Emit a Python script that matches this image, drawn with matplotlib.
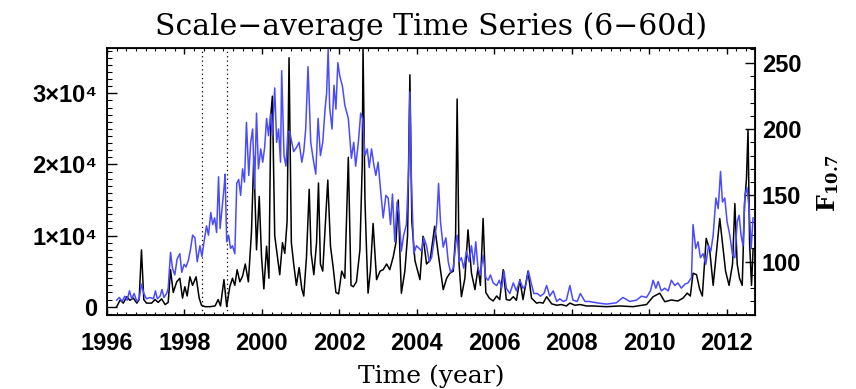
import numpy as np
import matplotlib.pyplot as plt
from matplotlib.ticker import MultipleLocator, FixedLocator

# scale-averaged wavelet power, 6-60 day band
t_power = [1996.25, 1996.34, 1996.42, 1996.51, 1996.59, 1996.68, 1996.77, 1996.83, 1996.89, 1996.95,
           1997.02, 1997.15, 1997.24, 1997.32, 1997.41, 1997.50, 1997.58, 1997.64, 1997.71, 1997.80,
           1997.88, 1997.95, 1998.01, 1998.07, 1998.14, 1998.21, 1998.30, 1998.38, 1998.44, 1998.53,
           1998.66, 1998.79, 1998.87, 1998.93, 1999.02, 1999.09, 1999.17, 1999.24, 1999.30, 1999.36,
           1999.43, 1999.50, 1999.57, 1999.65, 1999.73, 1999.79, 1999.86, 1999.93, 1999.99, 2000.05,
           2000.12, 2000.18, 2000.23, 2000.27, 2000.33, 2000.40, 2000.46, 2000.53, 2000.59, 2000.65,
           2000.70, 2000.76, 2000.82, 2000.89, 2000.96, 2001.03, 2001.08, 2001.15, 2001.22, 2001.27,
           2001.34, 2001.41, 2001.46, 2001.51, 2001.57, 2001.63, 2001.70, 2001.77, 2001.84, 2001.91,
           2001.98, 2002.06, 2002.14, 2002.23, 2002.30, 2002.36, 2002.44, 2002.53, 2002.59, 2002.61,
           2002.66, 2002.70, 2002.74, 2002.80, 2002.87, 2002.96, 2003.05, 2003.13, 2003.22, 2003.30,
           2003.39, 2003.46, 2003.52, 2003.56, 2003.60, 2003.69, 2003.76, 2003.82, 2003.87, 2003.95,
           2004.08, 2004.16, 2004.25, 2004.34, 2004.46, 2004.55, 2004.68, 2004.77, 2004.85, 2004.94,
           2005.00, 2005.04, 2005.09, 2005.15, 2005.24, 2005.32, 2005.41, 2005.50, 2005.58, 2005.64,
           2005.71, 2005.78, 2005.87, 2005.97, 2006.06, 2006.14, 2006.23, 2006.31, 2006.40, 2006.49,
           2006.57, 2006.66, 2006.74, 2006.87, 2006.96, 2007.09, 2007.17, 2007.26, 2007.35, 2007.48,
           2007.61, 2007.73, 2007.86, 2007.95, 2008.08, 2008.21, 2008.38, 2008.55, 2008.89, 2009.24,
           2009.58, 2009.93, 2010.10, 2010.27, 2010.40, 2010.57, 2010.74, 2010.87, 2010.98, 2011.06,
           2011.13, 2011.22, 2011.30, 2011.37, 2011.47, 2011.56, 2011.65, 2011.75, 2011.82, 2011.89,
           2011.97, 2012.06, 2012.15, 2012.21, 2012.27, 2012.33, 2012.40, 2012.46, 2012.51, 2012.55,
           2012.59, 2012.64, 2012.68]
power = [0, 940, 500, 1400, 900, 1200, 500, 1000, 7980, 1000,
         500, 500, 1000, 600, 1100, 300, 600, 5200, 2000, 3500,
         4000, 1200, 2800, 1500, 4200, 3000, 4200, 1200, 200, 0,
         0, 100, 1000, 100, 3800, 0, 2800, 4000, 3000, 5200,
         3500, 4300, 6000, 3500, 10500, 21100, 8000, 15500, 7000, 2500,
         8500, 4000, 27000, 29600, 10000, 7000, 4500, 9000, 7500, 12000,
         35000, 9000, 6000, 3000, 5500, 2500, 1500, 7000, 16500, 7500,
         4500, 9000, 17400, 6000, 5000, 11000, 17800, 8500, 5500, 2000,
         1800, 5000, 4000, 21000, 3000, 2800, 3500, 8000, 20000, 36500,
         15000, 8000, 1900, 5000, 11700, 3800, 5000, 5200, 6000, 5200,
         7000, 9000, 15000, 8000, 1900, 5000, 10000, 32600, 12000, 6500,
         3800, 9900, 6000, 6500, 11300, 7500, 2400, 4000, 4700, 5000,
         10000, 29200, 6000, 1400, 4000, 10800, 4700, 2400, 5500, 3000,
         12400, 2000, 1200, 800, 1500, 1000, 5200, 1000, 900, 1400,
         900, 3800, 1000, 5000, 1200, 500, 600, 500, 1400, 400,
         200, 300, 100, 500, 200, 300, 100, 100, 0, 100,
         0, 300, 1400, 1900, 700, 940, 800, 1200, 1900, 1500,
         4700, 4500, 2500, 1500, 9600, 8000, 3000, 8500, 12400, 9000,
         5000, 3000, 6000, 14500, 6000, 4000, 3000, 14500, 18000, 24900,
         9000, 3000, 8000]

# solar radio flux F10.7
t_f107 = [1996.25, 1996.32, 1996.39, 1996.46, 1996.52, 1996.58, 1996.64, 1996.70, 1996.77, 1996.83,
          1996.89, 1996.95, 1997.02, 1997.11, 1997.20, 1997.25, 1997.30, 1997.37, 1997.42, 1997.47,
          1997.54, 1997.58, 1997.64, 1997.69, 1997.75, 1997.81, 1997.88, 1997.93, 1997.99, 1998.04,
          1998.10, 1998.16, 1998.21, 1998.27, 1998.33, 1998.40, 1998.45, 1998.50, 1998.57, 1998.62,
          1998.68, 1998.73, 1998.78, 1998.83, 1998.88, 1998.92, 1998.97, 1999.02, 1999.05, 1999.09,
          1999.14, 1999.19, 1999.24, 1999.30, 1999.35, 1999.40, 1999.45, 1999.50, 1999.55, 1999.60,
          1999.66, 1999.71, 1999.76, 1999.81, 1999.86, 1999.91, 1999.97, 2000.02, 2000.07, 2000.12,
          2000.17, 2000.22, 2000.27, 2000.33, 2000.38, 2000.43, 2000.48, 2000.51, 2000.57, 2000.62,
          2000.67, 2000.72, 2000.77, 2000.82, 2000.89, 2000.96, 2001.03, 2001.08, 2001.13, 2001.19,
          2001.26, 2001.32, 2001.39, 2001.45, 2001.51, 2001.57, 2001.63, 2001.67, 2001.71, 2001.75,
          2001.81, 2001.86, 2001.91, 2001.96, 2002.01, 2002.08, 2002.14, 2002.23, 2002.31, 2002.37,
          2002.42, 2002.49, 2002.55, 2002.60, 2002.66, 2002.72, 2002.77, 2002.83, 2002.89, 2002.94,
          2003.00, 2003.06, 2003.13, 2003.20, 2003.26, 2003.32, 2003.37, 2003.43, 2003.49, 2003.54,
          2003.60, 2003.66, 2003.73, 2003.79, 2003.82, 2003.86, 2003.92, 2003.99, 2004.06, 2004.12,
          2004.18, 2004.25, 2004.32, 2004.38, 2004.44, 2004.51, 2004.56, 2004.61, 2004.68, 2004.75,
          2004.81, 2004.87, 2004.94, 2005.01, 2005.04, 2005.09, 2005.15, 2005.21, 2005.28, 2005.35,
          2005.41, 2005.47, 2005.52, 2005.58, 2005.64, 2005.71, 2005.78, 2005.84, 2005.90, 2005.97,
          2006.06, 2006.13, 2006.19, 2006.25, 2006.31, 2006.40, 2006.49, 2006.57, 2006.66, 2006.74,
          2006.81, 2006.88, 2006.95, 2007.02, 2007.11, 2007.19, 2007.28, 2007.35, 2007.43, 2007.52,
          2007.61, 2007.69, 2007.78, 2007.86, 2007.95, 2008.03, 2008.14, 2008.22, 2008.34, 2008.45,
          2008.64, 2008.89, 2009.15, 2009.32, 2009.50, 2009.67, 2009.80, 2009.93, 2010.03, 2010.10,
          2010.17, 2010.23, 2010.31, 2010.40, 2010.49, 2010.57, 2010.66, 2010.74, 2010.83, 2010.92,
          2011.00, 2011.09, 2011.13, 2011.20, 2011.26, 2011.32, 2011.39, 2011.46, 2011.53, 2011.59,
          2011.65, 2011.72, 2011.78, 2011.84, 2011.89, 2011.95, 2012.01, 2012.08, 2012.15, 2012.21,
          2012.27, 2012.32, 2012.37, 2012.42, 2012.47, 2012.52, 2012.58, 2012.63, 2012.68]
f107 = [71, 73, 70, 74, 71, 78, 72, 76, 70, 72,
        83, 76, 72, 73, 72, 78, 72, 74, 79, 73,
        76, 80, 107, 95, 90, 102, 106, 92, 98, 96,
        101, 110, 120, 118, 100, 112, 104, 114, 127, 120,
        137, 128, 133, 122, 164, 125, 140, 155, 166, 115,
        120, 110, 112, 106, 159, 162, 150, 170, 160, 205,
        165, 190, 200, 155, 212, 170, 185, 175, 186, 208,
        195, 211, 195, 231, 190, 200, 175, 244, 180, 172,
        198, 198, 190, 183, 186, 190, 175, 183, 200, 247,
        190, 178, 166, 208, 180, 190, 215, 227, 260, 216,
        200, 233, 215, 250, 240, 232, 218, 208, 178, 190,
        172, 190, 212, 208, 180, 185, 171, 185, 173, 165,
        175, 155, 133, 150, 148, 128, 151, 115, 145, 135,
        108, 120, 128, 170, 228, 160, 106, 112, 110, 108,
        118, 112, 100, 103, 115, 128, 159, 130, 111, 118,
        100, 92, 95, 115, 120, 100, 103, 95, 108, 100,
        112, 98, 115, 95, 90, 105, 88, 86, 90, 84,
        82, 86, 80, 93, 80, 76, 84, 78, 86, 80,
        82, 93, 84, 76, 76, 74, 76, 82, 74, 78,
        70, 72, 70, 71, 82, 71, 70, 76, 70, 70,
        69, 68, 69, 73, 70, 71, 74, 73, 78, 86,
        80, 85, 78, 80, 78, 86, 82, 84, 80, 83,
        84, 88, 128, 110, 115, 103, 106, 98, 112, 108,
        120, 148, 140, 168, 145, 148, 130, 120, 105, 103,
        130, 135, 120, 112, 150, 156, 140, 110, 133]

# times of interest marked with dotted lines
t_marks = [1998.45, 1999.10]

sans = ['Liberation Sans', 'DejaVu Sans']

fig = plt.figure(figsize=(8.56, 3.89), dpi=100)
ax = fig.add_axes([107/856, 1 - 315/389, 648/856, 267/389])

ax.plot(t_power, power, color='black', lw=1.1, zorder=2)
for tm in t_marks:
    ax.axvline(tm, color='black', lw=0.9, ls=(0, (1, 2.5)), zorder=1)

ax.set_xlim(1996, 2012.73)
ax.set_ylim(-1170, 36370)
ax.xaxis.set_major_locator(MultipleLocator(2))
ax.xaxis.set_minor_locator(MultipleLocator(0.25))
ax.yaxis.set_major_locator(FixedLocator([0, 1e4, 2e4, 3e4]))
ax.yaxis.set_minor_locator(MultipleLocator(1000))
ax.set_yticklabels(['0', '1×10⁴', '2×10⁴', '3×10⁴'])

ax.tick_params(axis='x', which='major', direction='in', length=4.5, width=1, top=True, pad=12)
ax.tick_params(axis='x', which='minor', direction='in', length=2.2, width=0.8, top=True)
ax.tick_params(axis='y', which='major', direction='in', length=7, width=1, right=False, pad=7)
ax.tick_params(axis='y', which='minor', direction='in', length=3.5, width=0.8, right=False)
for lab in ax.get_xticklabels() + ax.get_yticklabels():
    lab.set_family(sans)
    lab.set_fontweight('bold')
    lab.set_fontsize(17)
for sp in ax.spines.values():
    sp.set_linewidth(1.3)

ax2 = ax.twinx()
ax2.plot(t_f107, f107, color='#4a4aff', lw=1.1, zorder=3)
ax2.set_ylim(59.8, 261.1)
ax2.yaxis.set_major_locator(MultipleLocator(50))
ax2.yaxis.set_minor_locator(MultipleLocator(10))
ax2.tick_params(axis='y', which='major', direction='in', length=7, width=1, pad=5)
ax2.tick_params(axis='y', which='minor', direction='in', length=3.5, width=0.8)
for lab in ax2.get_yticklabels():
    lab.set_family(sans)
    lab.set_fontweight('bold')
    lab.set_fontsize(17)

ax.set_title('Scale\u2212average Time Series (6\u221260d)', family='DejaVu Serif',
             fontsize=21.5, pad=9.5)
ax.set_xlabel('Time (year)', family='DejaVu Serif', fontsize=18, labelpad=7)

plt.rcParams['mathtext.fontset'] = 'dejavuserif'
fig.text(828/856, 1 - 183/389, r'$\mathbf{F_{10.7}}$', rotation=90, fontsize=17,
         ha='center', va='center')

fig.savefig('out.png', dpi=100)
